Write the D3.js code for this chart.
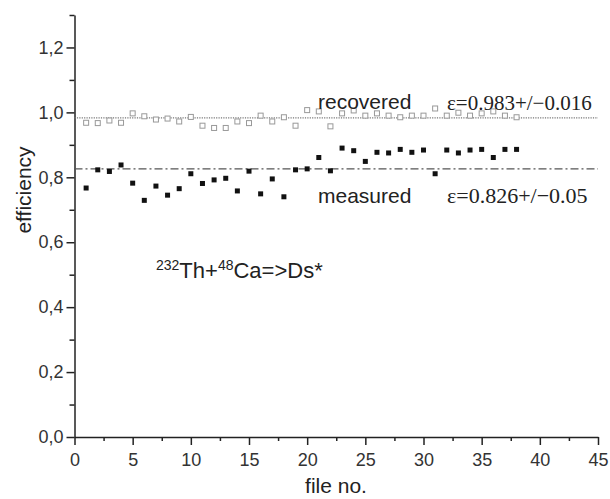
<!DOCTYPE html>
<html>
<head>
<meta charset="UTF-8">
<script src="https://cdn.jsdelivr.net/npm/d3@7"></script>
<style>
  body { margin: 0; background: white; }
  text { font-family: "Liberation Sans", Arial, sans-serif; }
</style>
</head>
<body>
<div id="chart"></div>
<script>
// file numbers 1..38
const files = [1,2,3,4,5,6,7,8,9,10,11,12,13,14,15,16,17,18,19,20,21,22,23,24,25,26,27,28,29,30,31,32,33,34,35,36,37,38];
const recovered = [0.968,0.967,0.975,0.968,0.997,0.988,0.978,0.981,0.972,0.986,0.959,0.952,0.952,0.972,0.967,0.990,0.972,0.985,0.959,1.007,1.003,0.957,0.997,1.006,0.990,0.997,0.990,0.985,0.990,0.990,1.012,0.990,0.999,0.990,0.997,1.003,0.990,0.985];
const measured = [0.767,0.823,0.818,0.838,0.782,0.729,0.773,0.745,0.765,0.811,0.781,0.792,0.797,0.758,0.819,0.749,0.795,0.740,0.823,0.826,0.861,0.820,0.890,0.882,0.849,0.877,0.875,0.886,0.877,0.884,0.811,0.884,0.875,0.884,0.886,0.861,0.886,0.886];
const meanRecovered = 0.983;
const meanMeasured = 0.826;
const xMajor = [0,5,10,15,20,25,30,35,40,45];
const xMinor = [2.5,7.5,12.5,17.5,22.5,27.5,32.5,37.5,42.5];
const yMajor = [0,0.2,0.4,0.6,0.8,1.0,1.2];
const yMinor = [0.1,0.3,0.5,0.7,0.9,1.1,1.3];

const w = 610, h = 499;
const x = d3.scaleLinear().domain([0, 45]).range([74.5, 598]);
const y = d3.scaleLinear().domain([0, 1.3]).range([437, 15]);

const svg = d3.select('#chart').append('svg')
    .attr('width', w).attr('height', h);

const comma = d => d3.format('.1f')(d).replace('.', ',');

// minor ticks first
svg.append('g')
    .attr('transform', `translate(0,${y(0)})`)
    .call(d3.axisBottom(x).tickValues(xMinor).tickSize(4).tickFormat('').tickSizeOuter(0))
    .call(g => g.select('.domain').remove());
svg.append('g')
    .attr('transform', `translate(${x(0)},0)`)
    .call(d3.axisLeft(y).tickValues(yMinor).tickSize(5).tickFormat('').tickSizeOuter(0))
    .call(g => g.select('.domain').remove());

const xAxis = svg.append('g')
    .attr('transform', `translate(0,${y(0)})`)
    .call(d3.axisBottom(x).tickValues(xMajor).tickSize(8).tickSizeOuter(0).tickPadding(8));
const yAxis = svg.append('g')
    .attr('transform', `translate(${x(0)},0)`)
    .call(d3.axisLeft(y).tickValues(yMajor).tickFormat(comma).tickSize(8).tickSizeOuter(0).tickPadding(3));

svg.selectAll('.domain, .tick line').attr('stroke', '#222').attr('stroke-width', 1.5);
svg.selectAll('.tick text').attr('fill', '#333').style('font-size', '18px');

// mean lines
svg.append('line')
    .attr('x1', x(0)).attr('x2', x(45))
    .attr('y1', y(meanRecovered)).attr('y2', y(meanRecovered))
    .attr('stroke', '#777').attr('stroke-width', 1.2)
    .attr('stroke-dasharray', '1.2,1.2');
svg.append('line')
    .attr('x1', x(0)).attr('x2', x(45))
    .attr('y1', y(meanMeasured)).attr('y2', y(meanMeasured))
    .attr('stroke', '#555').attr('stroke-width', 1.2)
    .attr('stroke-dasharray', '8,3,2,3');

// recovered: open squares
svg.append('g').selectAll('rect')
    .data(files)
    .join('rect')
    .attr('x', (d, i) => x(d) - 2.5)
    .attr('y', (d, i) => y(recovered[i]) - 2.5)
    .attr('width', 5).attr('height', 5)
    .attr('fill', 'white')
    .attr('stroke', '#999')
    .attr('stroke-width', 1);

// measured: filled squares
svg.append('g').selectAll('rect')
    .data(files)
    .join('rect')
    .attr('x', (d, i) => x(d) - 2.5)
    .attr('y', (d, i) => y(measured[i]) - 2.5)
    .attr('width', 5).attr('height', 5)
    .attr('fill', '#111');

// labels
svg.append('text')
    .attr('x', 318).attr('y', 109)
    .style('font-size', '21px').attr('fill', '#222')
    .text('recovered');
svg.append('text')
    .attr('x', 447).attr('y', 110)
    .style('font-family', '"Liberation Serif", "Times New Roman", serif')
    .style('font-size', '21px').attr('fill', '#222')
    .text('ε=0.983+/−0.016');
svg.append('text')
    .attr('x', 318).attr('y', 203)
    .style('font-size', '21px').attr('fill', '#222')
    .text('measured');
svg.append('text')
    .attr('x', 447).attr('y', 203)
    .style('font-family', '"Liberation Serif", "Times New Roman", serif')
    .style('font-size', '22px').attr('fill', '#222')
    .text('ε=0.826+/−0.05');

const reaction = svg.append('text')
    .attr('x', 156).attr('y', 278)
    .style('font-size', '22px').attr('fill', '#222');
reaction.append('tspan').attr('dy', -8).style('font-size', '14px').text('232');
reaction.append('tspan').attr('dy', 8).text('Th+');
reaction.append('tspan').attr('dy', -8).style('font-size', '14px').text('48');
reaction.append('tspan').attr('dy', 8).text('Ca=>Ds*');

svg.append('text')
    .attr('transform', `translate(31,190) rotate(-90)`)
    .attr('text-anchor', 'middle')
    .style('font-size', '21px').attr('fill', '#222')
    .text('efficiency');
svg.append('text')
    .attr('x', 336).attr('y', 493)
    .attr('text-anchor', 'middle')
    .style('font-size', '21px').attr('fill', '#222')
    .text('file no.');
</script>
</body>
</html>
